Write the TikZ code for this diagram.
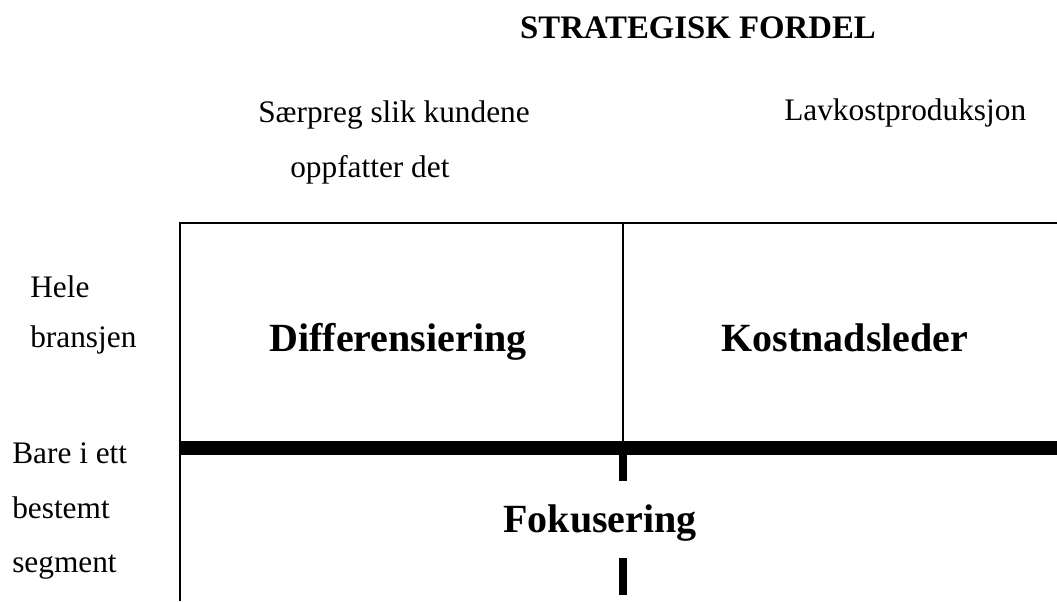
\documentclass[tikz,border=0pt]{standalone}
\usepackage{fontspec}
\setmainfont{Liberation Serif}
\begin{document}
\begin{tikzpicture}[x=.75pt,y=-.75pt,
	txt/.style={inner sep=0pt,font=\fontsize{23.5}{28}\selectfont},
	big/.style={inner sep=0pt,font=\fontsize{30}{36}\selectfont\bfseries},
	head/.style={inner sep=0pt,font=\fontsize{24.6}{29}\selectfont\bfseries}]
		\useasboundingbox (0,0) rectangle (1057,601);
		
		% frame
		\coordinate (tl) at (180,223);
		\coordinate (tr) at (1057,223);
		\coordinate (bl) at (180,601);
		\coordinate (tm) at (623,223);
		\coordinate (ml) at (180,448);
		\coordinate (mr) at (1057,448);
		\coordinate (mm) at (623,441);
		\draw[line width=1.1pt] (bl) -- (tl) -- (tr);
		\draw[line width=.8pt] (tm) -- (mm);
		\draw[line width=10.5pt] (ml) -- (mr);
		\foreach \a/\b in {455/481,558/595}
		\draw[line width=6pt] (623,\a) -- (623,\b);
		
		\node[head,anchor=base] (title) at (698,38) {STRATEGISK FORDEL};
		\node[txt,anchor=base west] (saer) at (258,122) {Særpreg slik kundene};
		\node[txt,anchor=base west] (oppf) at (290,177) {oppfatter det};
		\node[txt,anchor=base west] (lavk) at (784,120) {Lavkostproduksjon};
		
		\node[txt,anchor=base west] (hele) at (30,297) {Hele};
		\node[txt,anchor=base west] (bran) at (30,347) {bransjen};
		\node[txt,anchor=base west] (bare) at (12,463) {Bare i ett};
		\node[txt,anchor=base west] (best) at (12,518) {bestemt};
		\node[txt,anchor=base west] (segm) at (12,572) {segment};
		
		\node[big,anchor=base] (diff) at (398,351) {Differensiering};
		\node[big,anchor=base] (kost) at (845,351) {Kostnadsleder};
		\node[big,anchor=base] (foku) at (600,532) {Fokusering};
	\end{tikzpicture}
\end{document}
